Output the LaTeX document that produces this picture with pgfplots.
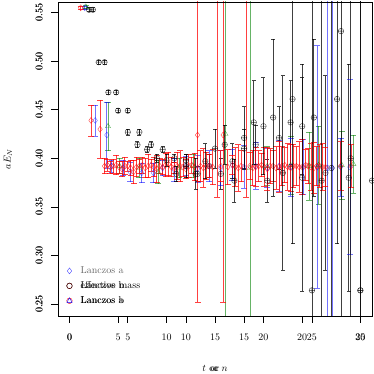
\documentclass[border=0pt]{standalone}
\usepackage{pgfplots}
\pgfplotsset{compat=1.18}
\begin{document}
\begin{tikzpicture}
\useasboundingbox (-58bp,-58bp) rectangle (316bp,316bp);
\pgfplotsset{
  rbase/.style={
    scale only axis, width=314bp, height=314bp,
    at={(0,0)}, anchor=south west,
    ymin=0.2376, ymax=0.561,
    ytick={0.25,0.30,0.35,0.40,0.45,0.50,0.55},
    yticklabels={0.25,0.30,0.35,0.40,0.45,0.50,0.55},
    yticklabel style={rotate=90, anchor=south},
    yticklabel shift=5bp,
    xticklabel shift=8bp,
    tick align=outside, major tick length=7bp,
    xtick pos=bottom, ytick pos=left,
    axis line style={line width=0.8pt},
    tick style={line width=0.6pt, black},
    every axis y label/.style={at={(axis description cs:-0.159,0.5)}, rotate=90, anchor=center},
    every axis x label/.style={at={(axis description cs:0.5,0)}, anchor=base, yshift=-56bp},
    legend style={at={(0,0)}, anchor=south west, xshift=8.5bp, yshift=10.5bp,
      draw=none, fill=none, inner sep=0pt, row sep=6pt,
      nodes={inner sep=0pt, text height=7pt, text depth=2pt},
      /tikz/every odd column/.append style={column sep=8.5pt}},
    legend cell align=left,
    error bars/error bar style={line width=0.75pt},
    error bars/error mark options={rotate=90, line width=0.75pt, mark size=3pt},
  },
  em/.style={only marks, mark=oplus, mark size=2.8pt, black, opacity=0.75,
    error bars/y dir=both, error bars/y explicit,
    error bars/error mark options={rotate=90, line width=0.75pt, mark size=2pt}},
  lb/.style={only marks, mark=diamond, mark size=3pt, red, opacity=0.75,
    error bars/y dir=both, error bars/y explicit},
  la/.style={only marks, mark=diamond, mark size=3pt, blue, opacity=0.55,
    error bars/y dir=both, error bars/y explicit},
  lg/.style={only marks, mark=triangle, mark size=3pt, green!50!black, opacity=0.6,
    error bars/y dir=both, error bars/y explicit},
}
\pgfplotstableread{
x y e
2 0.553 0.002
3 0.499 0.002
4 0.468 0.002
5 0.449 0.002
6 0.427 0.003
7 0.414 0.003
8 0.409 0.003
9 0.400 0.004
10 0.398 0.006
11 0.384 0.008
12 0.392 0.012
13 0.384 0.016
14 0.397 0.018
15 0.410 0.020
16 0.414 0.020
17 0.377 0.022
18 0.421 0.032
19 0.437 0.043
20 0.433 0.050
21 0.442 0.081
22 0.385 0.100
23 0.461 0.149
24 0.380 0.117
25 0.264 0.400
26 0.377 0.350
27 0.390 0.400
28 0.531 0.400
29 0.400 0.400
30 0.264 0.400
}\effmass
\begin{axis}[rbase, xmin=-1, xmax=26, xtick={0,5,10,15,20,25},
  xlabel={$t$ or $n$}, ylabel={$aE_N$}]
\addlegendimage{only marks, mark=diamond, mark size=3pt, blue!70}
\addlegendentry{\textcolor{black!60}{Lanczos a}}
\addlegendimage{only marks, mark=o, mark size=2.8pt, black}
\addlegendentry{effective mass}
\addlegendimage{only marks, mark=o, mark size=2.8pt, red}
\addlegendentry{Lanczos b}
% green series
\addplot[lg, forget plot] table[x=x, y=y, y error=e] {
x y e
1.4 0.556 0.002
3.3 0.433 0.025
4.3 0.392 0.008
6.0 0.390 0.010
7.6 0.386 0.012
9.4 0.390 0.010
10.6 0.392 0.012
13.4 0.425 0.300
15.5 0.390 0.300
17.0 0.392 0.020
19.0 0.393 0.030
20.6 0.392 0.035
21.4 0.393 0.040
23.4 0.393 0.035
24.4 0.394 0.030
};
% effective mass vs t
\addplot[em, forget plot] table[x=x, y=y, y error=e] {\effmass};
% Lanczos a
\addplot[la, forget plot] table[x=x, y=y, y error=e] {
x y e
1.3 0.555 0.002
2.2 0.439 0.016
3.2 0.424 0.034
3.6 0.392 0.006
4.6 0.390 0.008
5.2 0.386 0.010
6.2 0.385 0.010
7.2 0.385 0.010
8.0 0.390 0.008
9.0 0.388 0.012
10.0 0.392 0.010
11.0 0.389 0.014
12.0 0.392 0.016
13.0 0.390 0.018
14.0 0.393 0.016
15.0 0.391 0.022
16.0 0.392 0.024
17.0 0.390 0.020
18.0 0.392 0.026
19.0 0.391 0.030
20.1 0.391 0.028
21.3 0.391 0.125
22.2 0.390 0.260
22.6 0.390 0.300
23.3 0.391 0.030
24.1 0.391 0.090
};
% Lanczos b
\addplot[lb, forget plot] table[x=x, y=y, y error=e] {
x y e
0.95 0.555 0.002
1.84 0.439 0.016
2.62 0.430 0.030
3.0 0.392 0.008
3.25 0.393 0.006
3.5 0.391 0.006
3.75 0.392 0.007
4.0 0.393 0.010
4.25 0.391 0.006
4.5 0.389 0.008
4.75 0.392 0.009
5.0 0.392 0.005
5.25 0.390 0.008
5.5 0.386 0.012
5.75 0.391 0.010
6.0 0.392 0.007
6.25 0.393 0.008
6.5 0.390 0.010
6.75 0.392 0.012
7.0 0.393 0.006
7.25 0.391 0.010
7.5 0.389 0.014
7.75 0.392 0.008
8.0 0.391 0.008
8.25 0.393 0.012
8.5 0.394 0.012
8.75 0.391 0.010
9.0 0.390 0.006
9.25 0.392 0.014
9.5 0.392 0.016
9.75 0.391 0.010
10.0 0.389 0.010
10.25 0.392 0.012
10.5 0.393 0.008
10.75 0.391 0.014
11.0 0.424 0.172
11.25 0.392 0.016
11.5 0.390 0.020
11.75 0.392 0.014
12.0 0.392 0.012
12.3 0.391 0.018
12.7 0.700 0.340
13.0 0.392 0.016
13.2 0.424 0.172
13.6 0.391 0.018
14.0 0.393 0.010
14.25 0.391 0.020
14.5 0.390 0.024
14.75 0.392 0.016
15.2 0.700 0.340
15.5 0.392 0.014
15.75 0.390 0.018
16.0 0.391 0.020
16.25 0.392 0.016
16.5 0.393 0.012
16.75 0.391 0.020
17.0 0.389 0.022
17.25 0.392 0.018
17.5 0.392 0.016
17.75 0.390 0.022
18.0 0.391 0.026
18.25 0.392 0.020
18.5 0.393 0.018
18.75 0.391 0.024
19.0 0.390 0.024
19.25 0.392 0.022
19.5 0.392 0.020
19.75 0.391 0.026
20.0 0.391 0.028
20.3 0.393 0.016
20.5 0.392 0.018
20.75 0.391 0.024
21.0 0.390 0.026
21.25 0.392 0.020
21.5 0.392 0.022
21.75 0.391 0.024
22.0 0.391 0.020
23.3 0.392 0.025
24.2 0.392 0.022
};
\end{axis}
\begin{axis}[rbase, xmin=-1.2, xmax=31.2, xtick={0,5,10,15,20,25,30},
  xlabel={\phantom{$t$} or \phantom{$n$}},
  x label style={xshift=1.2bp}]
\addlegendimage{only marks, mark=o, mark size=2.8pt, black!60!red}
\addlegendentry{Lanczos b}
\addlegendimage{only marks, mark=triangle, mark size=3pt, blue}
\addlegendentry{Lanczos a}
% effective mass vs n
\addplot[em, forget plot] table[x=x, y=y, y error=e] {\effmass};
\end{axis}
\end{tikzpicture}
\end{document}
